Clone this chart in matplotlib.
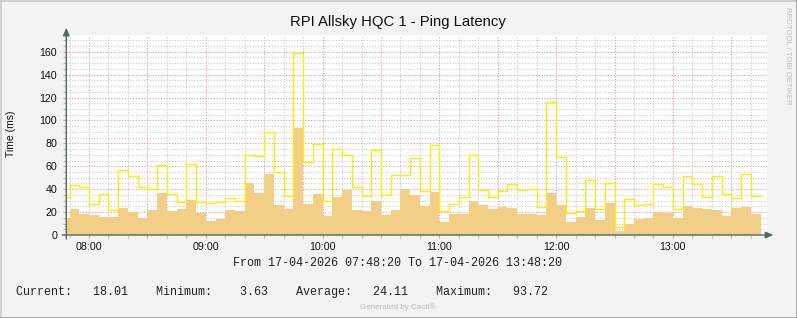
import numpy as np
import pandas as pd
import matplotlib
matplotlib.use("Agg")
import matplotlib.pyplot as plt
import matplotlib.dates as mdates
from matplotlib.ticker import MultipleLocator, FuncFormatter
from datetime import datetime

# ---- data (5-minute bins starting 07:45) ----
bin_start = datetime(2026, 4, 17, 7, 45)
avg_ms = [14.6, 22.7, 18.7, 17.5, 15.7, 15.7, 23.6, 20.1, 14.9, 21.9, 36.7, 21.0,
          22.7, 30.6, 19.5, 12.2, 14.0, 21.9, 21.0, 45.5, 36.7, 53.6, 26.5, 23.0,
          93.72, 27.1, 35.8, 16.6, 33.2,
          39.6, 21.9, 21.0, 29.4, 17.5, 21.9, 40.2, 35.0, 25.4, 37.6, 11.4, 18.4,
          18.4, 29.4, 26.2, 22.7, 24.5, 23.6, 18.4, 18.4, 17.5, 36.4,
          26.2, 11.4, 15.7, 23.6, 13.1, 28.0, 3.63, 9.6, 14.0, 14.9, 20.1, 19.2,
          14.9, 25.4, 23.6, 22.7, 21.9, 16.6, 23.9, 24.5, 18.01]
max_ms = [33.5, 43.4, 41.7, 26.8, 35.6, 21.6, 56.5, 51.3, 41.7, 39.9, 60.9, 35.6,
          28.6, 61.8, 28.6, 27.7, 28.6, 32.1, 29.4, 69.7, 68.8, 89.8, 54.8, 33.8,
          158.8, 63.5, 79.3, 29.4, 74.9,
          69.7, 42.0, 33.8, 74.0, 34.7, 52.2, 52.2, 67.0, 38.2, 78.4, 20.7, 26.8,
          32.9, 69.7, 39.1, 32.9, 38.2, 44.3, 39.1, 39.9, 24.5, 116.0,
          67.9, 18.9, 20.7, 47.8, 22.4, 45.2, 6.7, 31.2, 25.9, 26.8, 44.3, 41.7,
          22.4, 51.3, 44.3, 32.9, 51.3, 36.1, 32.1, 53.0, 33.8]
title = "RPI Allsky HQC 1 - Ping Latency"
ylabel = "Time (ms)"
range_text = "From 17-04-2026 07:48:20 To 17-04-2026 13:48:20"
legend_text = "Current:   18.01    Minimum:    3.63    Average:   24.11    Maximum:   93.72"
t_from = datetime(2026, 4, 17, 7, 48, 20)
t_to = datetime(2026, 4, 17, 13, 48, 20)

edges = pd.date_range(bin_start, periods=len(avg_ms) + 1, freq="5min").to_pydatetime()
avg_y = np.append(avg_ms, avg_ms[-1])
max_y = np.append(max_ms, max_ms[-1])

W, H = 797, 318
fig = plt.figure(figsize=(W / 100, H / 100), dpi=100)
fig.patch.set_facecolor("#F3F3F3")

L, R, T, B = 66.3, 767.0, 35.0, 235.0
ax = fig.add_axes([L / W, (H - B) / H, (R - L) / W, (B - T) / H])
ax.set_facecolor("white")

AX_COL = "#4F6B64"
FONT = ["Liberation Sans", "DejaVu Sans"]

ax.fill_between(edges, avg_y, 0, step="post", color="#F2CE86", linewidth=0, zorder=3)
ax.step(edges, max_y, where="post", color="#FFEE00", linewidth=1.0, zorder=4)

ax.set_xlim(t_from, t_to)
ax.set_ylim(0, 174.6)

ax.xaxis.set_major_locator(mdates.MinuteLocator(byminute=[0, 30]))
ax.xaxis.set_minor_locator(mdates.MinuteLocator(byminute=range(0, 60, 10)))
def xfmt(v, pos):
    d = mdates.num2date(v)
    return d.strftime("%H:%M") if d.minute == 0 else ""
ax.xaxis.set_major_formatter(FuncFormatter(xfmt))
ax.yaxis.set_major_locator(MultipleLocator(20))
ax.yaxis.set_minor_locator(MultipleLocator(5))

ax.grid(which="major", color="#E79A9A", linestyle=(0, (1, 1.5)), linewidth=0.8, zorder=1)
ax.grid(which="minor", color="#CBCBCB", linestyle=(0, (1, 1.5)), linewidth=0.8, zorder=1)
ax.set_axisbelow(True)

for s in ax.spines.values():
    s.set_visible(False)

ax.tick_params(axis="both", which="major", length=2, width=0.8, color="#E79A9A",
               labelsize=7.7, labelcolor="#111111", direction="out")
ax.tick_params(axis="both", which="minor", length=2, width=0.8, color="#BBBBBB", direction="out")
ax.tick_params(axis="y", which="major", pad=4.5)
ax.tick_params(axis="x", which="major", pad=3)
for lab in ax.get_xticklabels() + ax.get_yticklabels():
    lab.set_family(FONT)

# axis lines with arrows
ax.annotate("", xy=(0, 1.036), xytext=(0, -0.02), xycoords="axes fraction",
            textcoords="axes fraction", annotation_clip=False,
            arrowprops=dict(arrowstyle="-|>,head_length=0.45,head_width=0.2",
                            color=AX_COL, lw=1.0, shrinkA=0, shrinkB=0), zorder=6)
ax.annotate("", xy=(1.009, 0), xytext=(-0.006, 0), xycoords="axes fraction",
            textcoords="axes fraction", annotation_clip=False,
            arrowprops=dict(arrowstyle="-|>,head_length=0.45,head_width=0.2",
                            color=AX_COL, lw=1.0, shrinkA=0, shrinkB=0), zorder=6)

fig.text(11.5 / W, 1 - 134 / H, ylabel, ha="center", va="center", rotation=90,
         fontsize=7.5, family=FONT, color="#111111")
fig.text(398 / W, 1 - 22 / H, title, ha="center", va="center", fontsize=10.7,
         family=FONT, color="#111111")
fig.text(397.5 / W, 1 - 263.5 / H, range_text, ha="center", va="center", fontsize=8.5,
         family=["Liberation Mono", "DejaVu Sans Mono"], color="#222222")
fig.text(15.8 / W, 1 - 291.5 / H, legend_text, ha="left", va="center", fontsize=8.5,
         family=["Liberation Mono", "DejaVu Sans Mono"], color="#222222")
fig.text(398 / W, 1 - 307.5 / H, "Generated by Cacti®", ha="center", va="center",
         fontsize=5.8, family=FONT, color="#B8B8B8")
fig.text(788 / W, 1 - 56 / H, "RRDTOOL / TOBI OETIKER", ha="center", va="center",
         rotation=270, fontsize=5.6, family=FONT, color="#BDBDBD")

# figure frame
fig.add_artist(plt.Line2D([0.5 / W, 0.5 / W], [0, 1], color="#CBCBCB", lw=1.2))
fig.add_artist(plt.Line2D([0, 1], [1 - 0.5 / H, 1 - 0.5 / H], color="#CBCBCB", lw=1.2))
fig.add_artist(plt.Line2D([1 - 0.5 / W, 1 - 0.5 / W], [0, 1], color="#999999", lw=1.2))
fig.add_artist(plt.Line2D([0, 1], [0.5 / H, 0.5 / H], color="#999999", lw=1.2))

fig.savefig("out.png", dpi=100, facecolor=fig.get_facecolor())
